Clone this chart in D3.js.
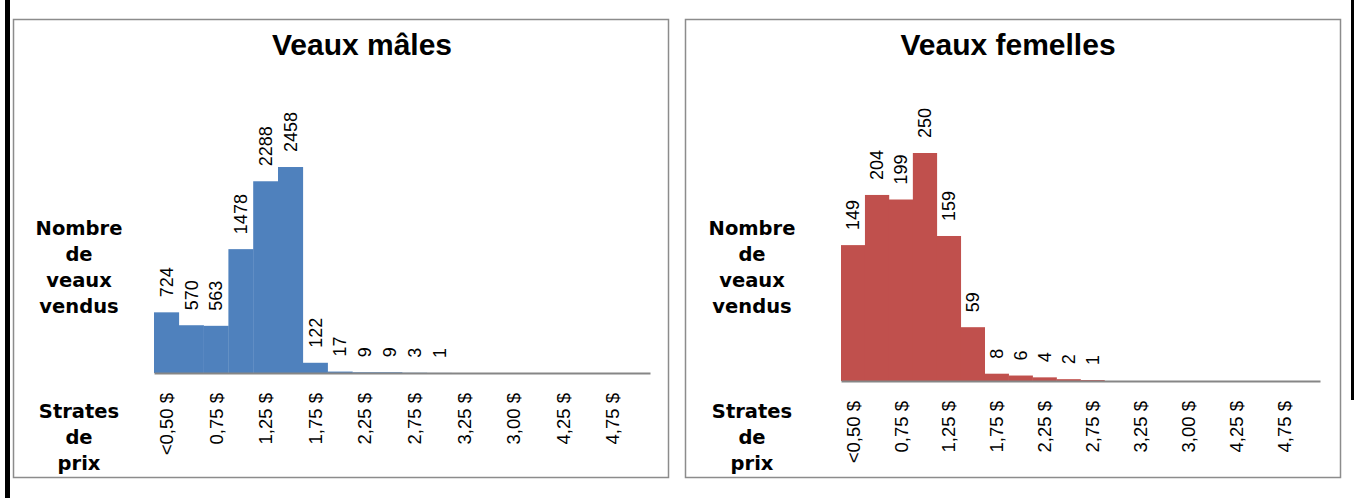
<!DOCTYPE html>
<html>
<head>
<meta charset="utf-8">
<script src="https://cdn.jsdelivr.net/npm/d3@7"></script>
<style>
  body { margin: 0; background: white; }
  svg { display: block; }
</style>
</head>
<body>
<main></main>
<script>
// Price brackets (20 bars, every second one is labelled)
const categories = ["<0,50 $", "0,50 $", "0,75 $", "1,00 $", "1,25 $", "1,50 $", "1,75 $", "2,00 $",
                    "2,25 $", "2,50 $", "2,75 $", "3,00 $", "3,25 $", "3,50 $", "3,00 $*", "4,00 $",
                    "4,25 $", "4,50 $", "4,75 $", "5,00 $"];
const tickCategories = ["<0,50 $", "0,75 $", "1,25 $", "1,75 $", "2,25 $", "2,75 $", "3,25 $", "3,00 $*", "4,25 $", "4,75 $"];

// Calves sold per bracket
const malesValues   = [724, 570, 563, 1478, 2288, 2458, 122, 17, 9, 9, 3, 1, null, null, null, null, null, null, null, null];
const femalesValues = [149, 204, 199, 250, 159, 59, 8, 6, 4, 2, 1, null, null, null, null, null, null, null, null, null];

const W = 1354, H = 498;

var svg = d3.select("main").append("svg")
            .attr("width", W)
            .attr("height", H);

// black edge bars from the page around the charts
svg.append("rect").attr("x", 5).attr("y", 0).attr("width", 5).attr("height", H).style("fill", "black");
svg.append("rect").attr("x", 1351).attr("y", 0).attr("width", 3).attr("height", 400).style("fill", "black");

function drawPanel (opt) {
    var g = svg.append("g");

    // frame of the chart
    g.append("rect")
     .attr("x", opt.box[0] + 0.5)
     .attr("y", opt.box[1] + 0.5)
     .attr("width", opt.box[2])
     .attr("height", opt.box[3])
     .style("fill", "white")
     .style("stroke", "#8c8c8c")
     .style("stroke-width", 1.5);

    g.append("text")
     .attr("x", opt.titleX)
     .attr("y", 55)
     .attr("text-anchor", "middle")
     .style("font-family", "'Liberation Sans', Arial, sans-serif")
     .style("font-weight", "bold")
     .style("font-size", "30px")
     .text(opt.title);

    var x = d3.scaleBand()
              .domain(categories)
              .range([opt.x0, opt.x1])
              .padding(0);

    var y = d3.scaleLinear()
              .domain([0, opt.yMax])
              .range([opt.base, opt.base - opt.yMax * opt.k]);

    var data = opt.values.map(function (v, i) { return {cat: categories[i], v: v}; })
                         .filter(function (d) { return d.v !== null; });

    g.selectAll(".bar")
     .data(data)
     .enter()
     .append("rect")
     .attr("class", "bar")
     .attr("x", function (d) { return x(d.cat); })
     .attr("y", function (d) { return y(d.v); })
     .attr("width", x.bandwidth() + 0.3)
     .attr("height", function (d) { return y(0) - y(d.v); })
     .style("fill", opt.color);

    // value labels, rotated, sitting above each bar
    g.selectAll(".lbl")
     .data(data)
     .enter()
     .append("text")
     .attr("class", "lbl")
     .attr("transform", function (d) {
         return "translate(" + (x(d.cat) + x.bandwidth() / 2) + "," + (y(d.v) - 15) + ") rotate(-90)";
     })
     .attr("dy", "0.36em")
     .style("font-family", "'Liberation Sans', Arial, sans-serif")
     .style("font-size", "18px")
     .text(function (d) { return d.v; });

    // category axis
    var axis = d3.axisBottom(x)
                 .tickValues(tickCategories)
                 .tickSize(0)
                 .tickSizeOuter(0)
                 .tickFormat(function (d) { return d.replace("*", ""); });

    var ax = g.append("g")
              .attr("transform", "translate(0," + opt.base + ")")
              .call(axis);

    ax.select(".domain")
      .style("stroke", "#868686")
      .style("stroke-width", 2);

    ax.selectAll(".tick text")
      .attr("transform", "rotate(-90)")
      .attr("x", -20)
      .attr("y", 0)
      .attr("dy", "0.36em")
      .style("text-anchor", "end")
      .style("font-family", "'Liberation Sans', Arial, sans-serif")
      .style("font-size", "18.5px")
      .style("fill", "black");

    // axis titles, three / four centred lines
    var yTitle = g.append("text")
                  .attr("text-anchor", "middle")
                  .style("font-family", "'DejaVu Sans', sans-serif")
                  .style("font-weight", "bold")
                  .style("font-size", "19.5px");
    ["Nombre", "de", "veaux", "vendus"].forEach(function (t, i) {
        yTitle.append("tspan").attr("x", opt.labelX).attr("y", 235 + i * 26).text(t);
    });

    var xTitle = g.append("text")
                  .attr("text-anchor", "middle")
                  .style("font-family", "'DejaVu Sans', sans-serif")
                  .style("font-weight", "bold")
                  .style("font-size", "19.5px");
    ["Strates", "de", "prix"].forEach(function (t, i) {
        xTitle.append("tspan").attr("x", opt.labelX).attr("y", 418 + i * 26).text(t);
    });
}

drawPanel({
    box: [13, 19, 655, 458],
    title: "Veaux mâles",
    titleX: 362,
    values: malesValues,
    color: "#4F81BD",
    x0: 154, x1: 650,
    base: 373,
    yMax: 2500,
    k: 0.0838,
    labelX: 79
});

drawPanel({
    box: [685, 19, 655, 458],
    title: "Veaux femelles",
    titleX: 1008,
    values: femalesValues,
    color: "#C0504D",
    x0: 841, x1: 1320,
    base: 381,
    yMax: 300,
    k: 0.912,
    labelX: 752
});
</script>
</body>
</html>
